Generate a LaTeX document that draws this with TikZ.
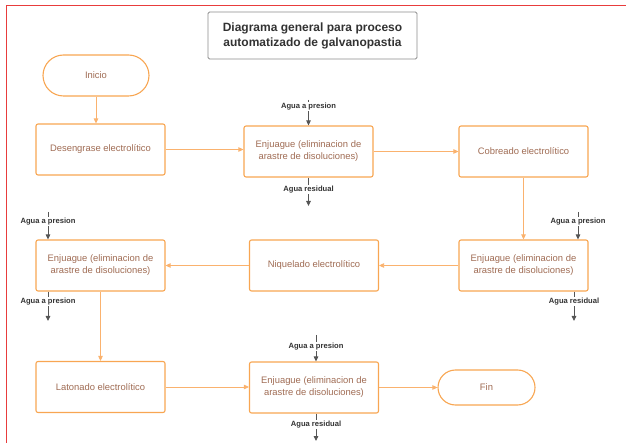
\documentclass[tikz,border=0pt]{standalone}
\usepackage{fontspec}
\setmainfont{Liberation Sans}
\usepackage{xcolor}
\usepackage{tikz}
\usetikzlibrary{arrows.meta, positioning, calc, shapes.misc}
\definecolor{boxcolor}{RGB}{248,166,82}
\definecolor{linecolor}{RGB}{250,178,110}
\definecolor{textcolor}{RGB}{160,108,84}
\definecolor{watercolor}{RGB}{85,85,85}
\definecolor{framecolor}{RGB}{232,60,60}
\definecolor{titlecolor}{RGB}{50,50,50}

\tikzset{
    procbox/.style={draw=boxcolor, line width=1.1pt, rounded corners=2pt, fill=white,
        minimum width=129pt, minimum height=51pt, inner sep=0pt, align=center,
        text=textcolor, font=\fontsize{9.4}{12}\selectfont},
    termbox/.style={draw=boxcolor, line width=1.1pt, rounded rectangle, fill=white,
        minimum width=106pt, minimum height=41pt, inner sep=0pt,
        text=textcolor, font=\fontsize{9.4}{12}\selectfont},
    flowline/.style={linecolor, line width=0.8pt, -{Triangle[length=5pt, width=4.5pt]}},
    waterline/.style={watercolor, line width=0.9pt, -{Triangle[length=5pt, width=4.5pt]}},
    waterlbl/.style={fill=white, inner sep=1pt, text=black!80,
        font=\bfseries\fontsize{7.6}{9}\selectfont},
}

\begin{document}
\begin{tikzpicture}[x=1pt, y=-1pt]
    \useasboundingbox (0,0) rectangle (626,443);

    % Frame
    \draw[framecolor, line width=1pt] (6,443) -- (6,5.5) -- (626,5.5);

    % Title
    \node[draw=gray!90, line width=0.8pt, rounded corners=1.5pt,
        minimum width=209pt, minimum height=47pt, align=center, text=titlecolor,
        font=\bfseries\fontsize{12}{15}\selectfont]
        (title) at (312.5,35.5) {Diagrama general para proceso\\automatizado de galvanopastia};

    % Row 1
    \node[termbox] (inicio) at (96,75.5) {Inicio};
    \node[procbox] (deseng) at (100.5,149.5) {Desengrase electrolítico};
    \node[procbox] (enjA) at (308.5,151.5) {Enjuague (eliminacion de\\arastre de disoluciones)};
    \node[procbox] (cobre) at (523.5,151.5) {Cobreado electrolítico};

    % Row 2
    \node[procbox] (enjB) at (523.5,265.5) {Enjuague (eliminacion de\\arastre de disoluciones)};
    \node[procbox] (niquel) at (314,265.5) {Niquelado electrolítico};
    \node[procbox] (enjC) at (100.5,265.5) {Enjuague (eliminacion de\\arastre de disoluciones)};

    % Row 3
    \node[procbox] (laton) at (100.5,387) {Latonado electrolítico};
    \node[procbox] (enjD) at (314,387.5) {Enjuague (eliminacion de\\arastre de disoluciones)};
    \node[termbox, minimum width=97pt, minimum height=35pt] (fin) at (486.5,387.5) {Fin};

    % Process flow
    \draw[flowline] (inicio.south) -- (deseng.north -| inicio.south);
    \draw[flowline] (deseng.east) -- (enjA.west |- deseng.east);
    \draw[flowline] (enjA.east) -- (cobre.west);
    \draw[flowline] (cobre.south) -- (enjB.north);
    \draw[flowline] (enjB.west) -- (niquel.east);
    \draw[flowline] (niquel.west) -- (enjC.east);
    \draw[flowline] (enjC.south) -- (laton.north);
    \draw[flowline] (laton.east) -- (enjD.west |- laton.east);
    \draw[flowline] (enjD.east) -- (fin.west);

    % Water in / out
    \coordinate (wA1) at (308.5,100);
    \coordinate (wA2) at (308.5,206);
    \draw[waterline] (wA1) -- node[waterlbl, pos=0.27] {Agua a presion} (enjA.north);
    \draw[waterline] (enjA.south) -- node[waterlbl, pos=0.42] {Agua residual} (wA2);

    \coordinate (wB1) at (578,212);
    \coordinate (wB2) at (574,321);
    \draw[waterline] (wB1) -- node[waterlbl, pos=0.35] {Agua a presion} (enjB.north -| wB1);
    \draw[waterline] (enjB.south -| wB2) -- node[waterlbl, pos=0.35] {Agua residual} (wB2);

    \coordinate (wC1) at (48,212);
    \coordinate (wC2) at (48,321);
    \draw[waterline] (wC1) -- node[waterlbl, pos=0.35] {Agua a presion} (enjC.north -| wC1);
    \draw[waterline] (enjC.south -| wC2) -- node[waterlbl, pos=0.35] {Agua a presion} (wC2);

    \coordinate (wD1) at (316,335);
    \coordinate (wD2) at (316,441);
    \draw[waterline] (wD1) -- node[waterlbl, pos=0.45] {Agua a presion} (enjD.north -| wD1);
    \draw[waterline] (enjD.south -| wD2) -- node[waterlbl, pos=0.4] {Agua residual} (wD2);
\end{tikzpicture}
\end{document}
